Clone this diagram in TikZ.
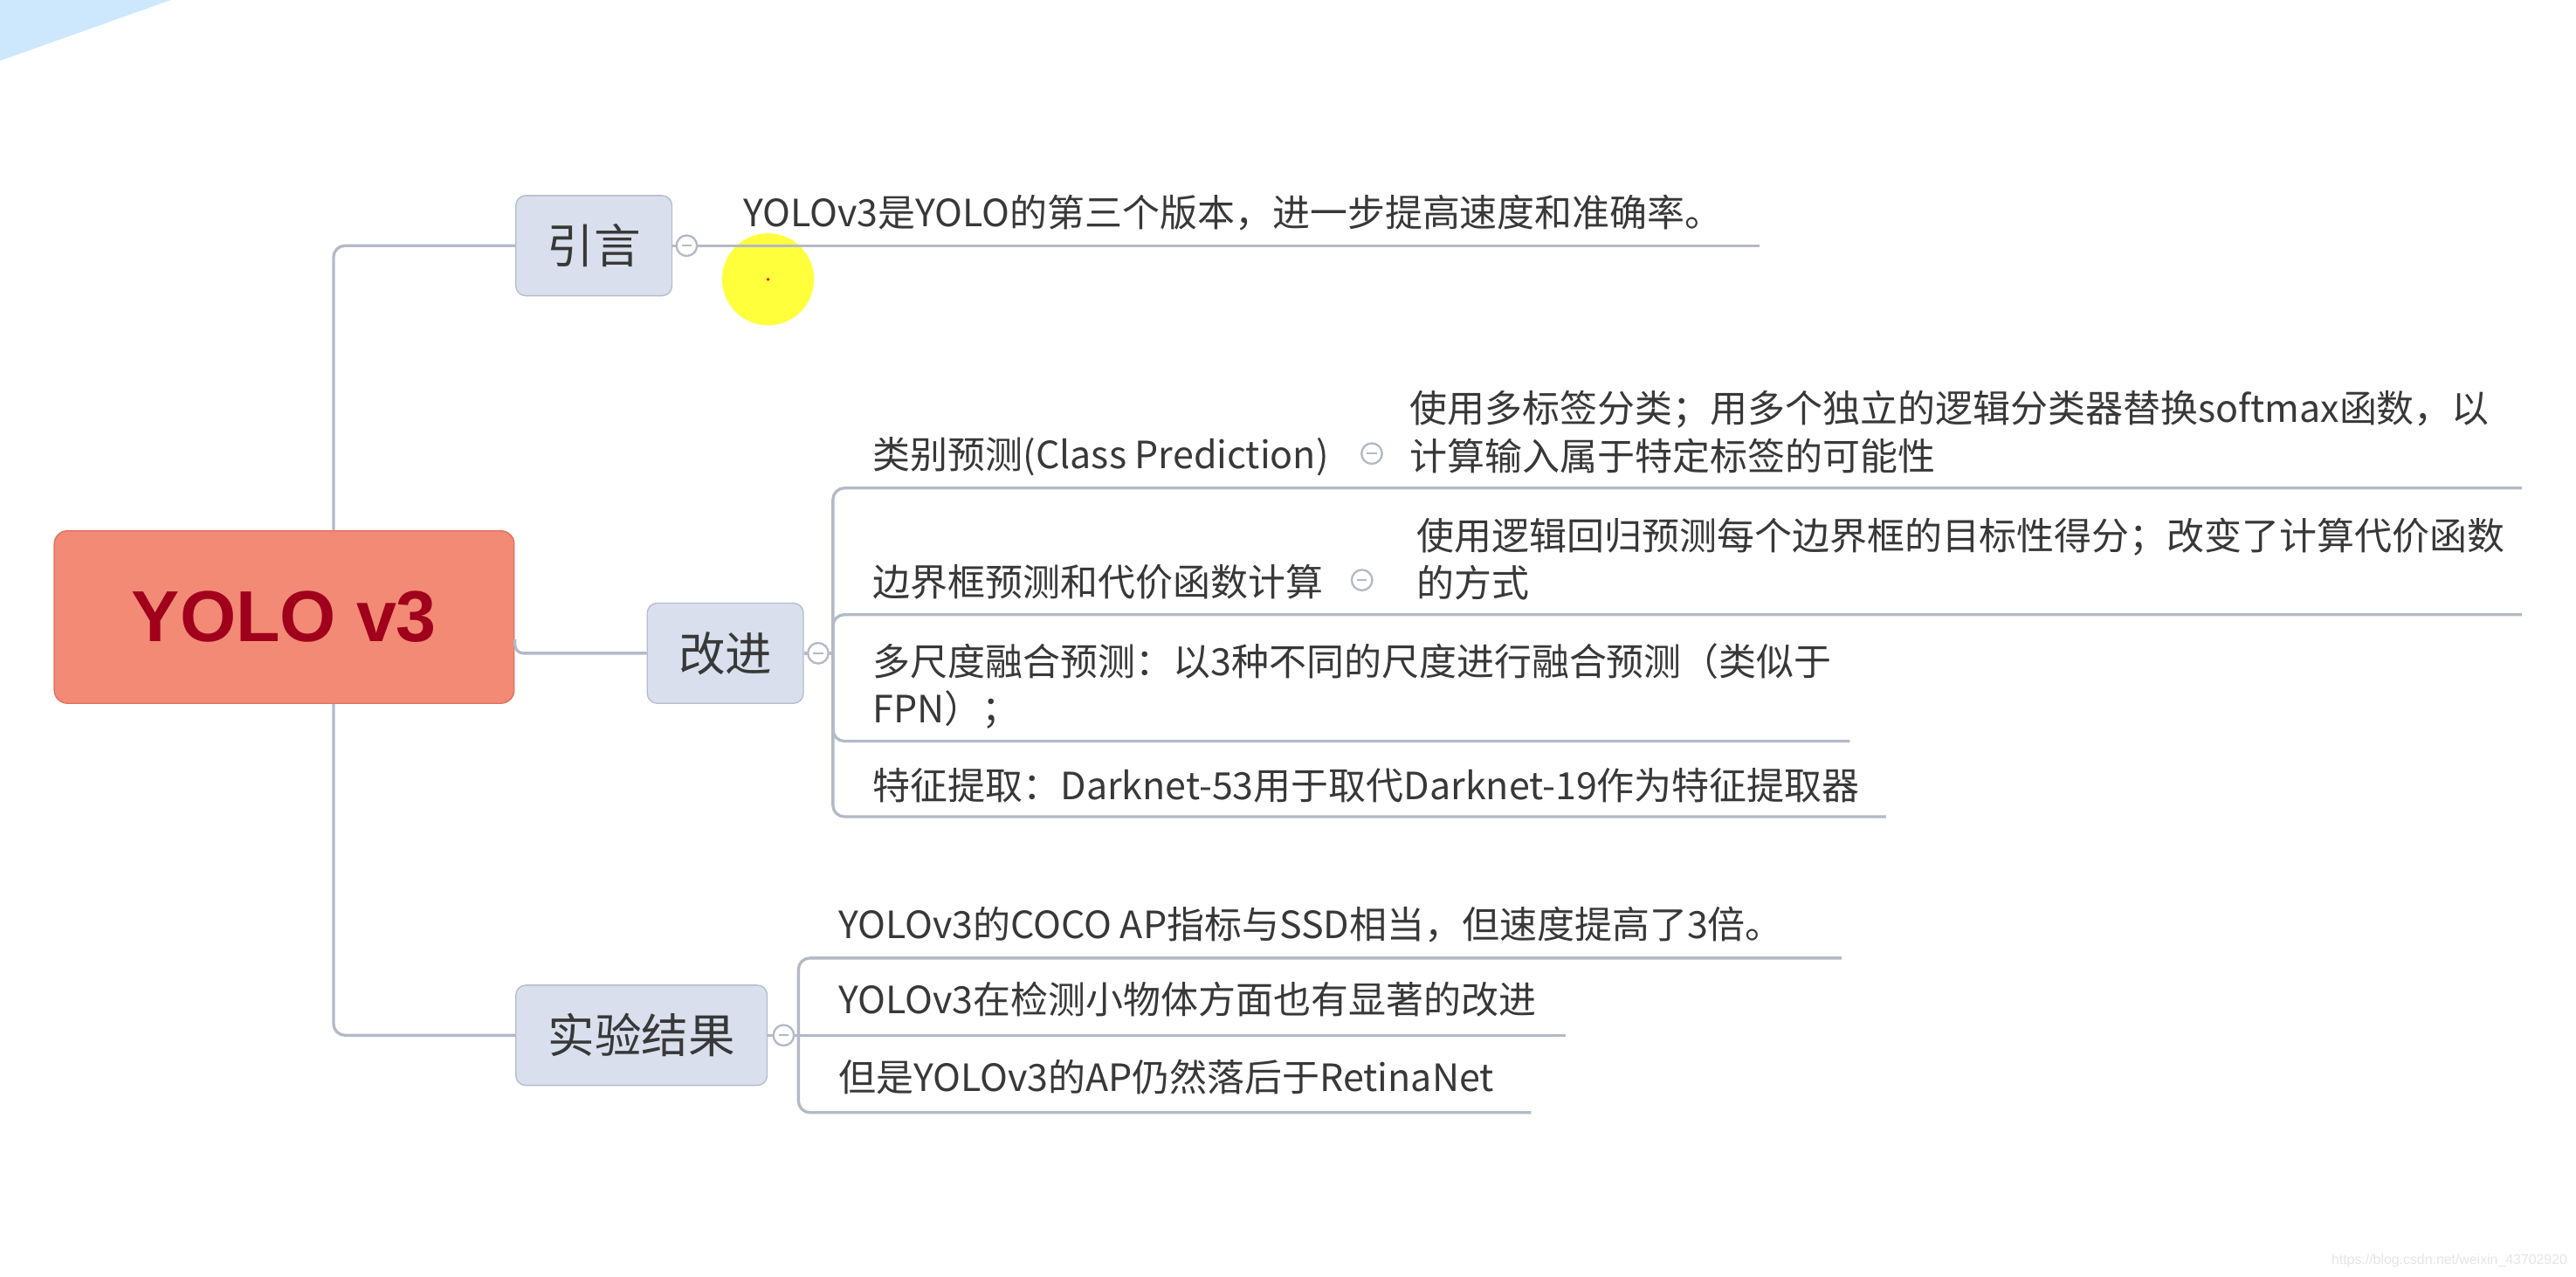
\documentclass[tikz,border=0pt]{standalone}
\usepackage{fontspec}
\setmainfont{Noto Sans CJK SC}
\newfontfamily\titlefont{Liberation Sans}
\newfontfamily\wmfont{Liberation Sans}
\usetikzlibrary{positioning}
\definecolor{linegrey}{HTML}{B4B9C6}
\definecolor{boxfill}{HTML}{D9DFEC}
\definecolor{boxline}{HTML}{B3BCCE}
\definecolor{rootfill}{HTML}{F28A76}
\definecolor{rootline}{HTML}{E2705F}
\definecolor{roottext}{HTML}{A0001C}
\definecolor{txt}{HTML}{383838}
\definecolor{skyblue}{HTML}{CDE8FC}
\definecolor{cursor}{HTML}{FFFF3C}
\tikzset{
  branch/.style={draw=linegrey, line width=1pt, rounded corners=0.14cm},
  topic/.style={draw=boxline, fill=boxfill, rounded corners=0.12cm, minimum height=1.22cm,
    inner sep=0pt, text=txt, font=\fontsize{16.2pt}{20pt}\selectfont},
  leaf/.style={anchor=base west, inner sep=0pt, text=txt, align=left,
    font=\fontsize{13pt}{16.4pt}\selectfont},
  fold/.style={circle, draw=linegrey, fill=white, minimum size=0.25cm, inner sep=0pt, line width=0.7pt,
    path picture={\draw[linegrey, line width=0.6pt] ([xshift=-0.06cm]path picture bounding box.center)
      -- ([xshift=0.06cm]path picture bounding box.center);}}
}

\begin{document}
\begin{tikzpicture}[x=0.02cm, y=-0.02cm]
  \useasboundingbox (0,0) rectangle (1568,777);
  \fill[white] (0,0) rectangle (1568,777);
  \fill[skyblue] (0,0) -- (104,0) -- (0,37) -- cycle;
  \fill[cursor] (467.5,170) circle (0.56cm);
  \fill[red] (467.5,170) circle (0.02cm);

  \node[draw=rootline, fill=rootfill, rounded corners=0.16cm, minimum width=5.6cm, minimum height=2.1cm,
    text=roottext, font=\titlefont\bfseries\fontsize{25pt}{30pt}\selectfont] (root) at (173,375.5) {YOLO v3};
  \node[topic, minimum width=1.9cm] (yy) at (361.5,149.5) {引言};
  \node[topic, minimum width=1.9cm] (gj) at (441.5,397.5) {改进};
  \node[topic, minimum width=3.06cm] (sy) at (390.5,630) {实验结果};

  \coordinate (tr) at (203,375.5);
  \coordinate (m2) at (313.5,389);
  \draw[branch] (root.north -| tr) |- (yy.west);
  \draw[branch] (root.south -| tr) |- (sy.west);
  \draw[branch, rounded corners=0.1cm] (m2) |- (gj.west);

  \node[fold] (yyf) at (418,149.5) {};
  \node[fold] (gjf) at (498,397.5) {};
  \node[fold] (syf) at (477,630) {};

  \coordinate (e0) at (1071,149.5);
  \draw[branch] (yy.east) -- (yyf.west) (yyf.east) -- (e0);

  \coordinate (gk) at (507,397.5);
  \coordinate (e1) at (845,297);  \coordinate (e1b) at (1535,297);
  \coordinate (e2) at (849,374);  \coordinate (e2b) at (1535,374);
  \coordinate (e3) at (1126,451);
  \coordinate (e4) at (1148,497);
  \draw[branch] (gj.east) -- (gjf.west) (gjf.east) -- (gk);
  \draw[branch] (gk) |- (e1) -- (e1b);
  \draw[branch] (gk) |- (e2) -- (e2b);
  \draw[branch] (gk) |- (e3);
  \draw[branch] (gk) |- (e4);

  \coordinate (sk) at (486,630);
  \coordinate (s1) at (1121,583);
  \coordinate (s2) at (953,630);
  \coordinate (s3) at (932,677);
  \draw[branch] (sy.east) -- (syf.west) (syf.east) -- (sk);
  \draw[branch] (sk) |- (s1);
  \draw[branch] (sk) -- (s2);
  \draw[branch] (sk) |- (s3);

  \node[fold] (c1f) at (835,276) {};
  \node[fold] (c2f) at (829,353) {};

  \node[leaf] (t0) at (452,138) {YOLOv3是YOLO的第三个版本，进一步提高速度和准确率。};
  \node[leaf] (t1) at (531,285) {类别预测(Class Prediction)};
  \node[leaf] (t1b) at (858,286) {使用多标签分类；用多个独立的逻辑分类器替换softmax函数，以\\计算输入属于特定标签的可能性};
  \node[leaf] (t2) at (531,363) {边界框预测和代价函数计算};
  \node[leaf] (t2b) at (862,363.5) {使用逻辑回归预测每个边界框的目标性得分；改变了计算代价函数\\的方式};
  \node[leaf] (t3) at (531,440) {多尺度融合预测：以3种不同的尺度进行融合预测（类似于\\FPN）；};
  \node[leaf] (t4) at (531,486.5) {特征提取：Darknet-53用于取代Darknet-19作为特征提取器};
  \node[leaf] (r1) at (510,571) {YOLOv3的COCO AP指标与SSD相当，但速度提高了3倍。};
  \node[leaf] (r2) at (510,617) {YOLOv3在检测小物体方面也有显著的改进};
  \node[leaf] (r3) at (510,664) {但是YOLOv3的AP仍然落后于RetinaNet};

  \node[anchor=base east, inner sep=0pt, text=black!10, font=\wmfont\fontsize{4.8pt}{6pt}\selectfont] (wm)
    at (1563,769.5) {https://blog.csdn.net/weixin\_43702920};
\end{tikzpicture}
\end{document}
